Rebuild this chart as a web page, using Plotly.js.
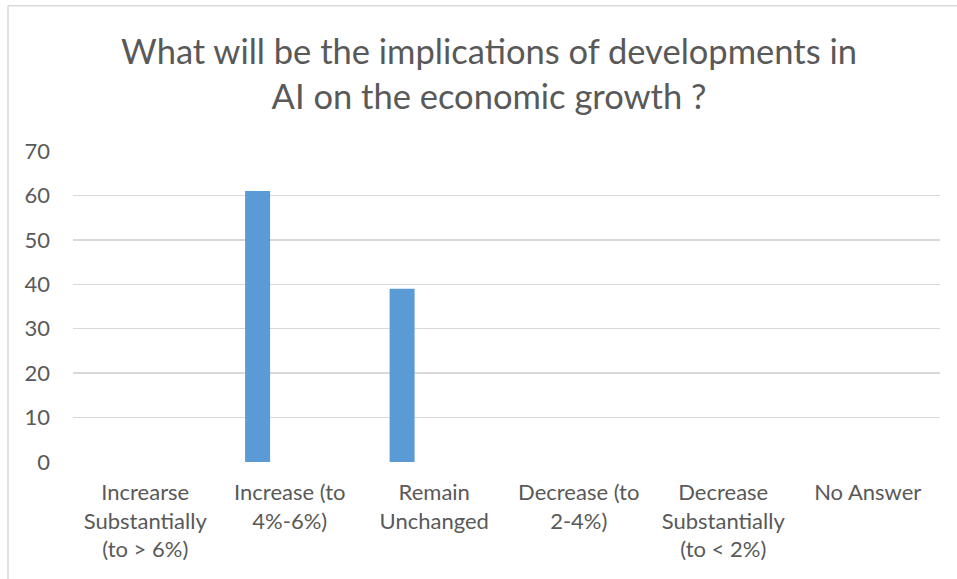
<!DOCTYPE html>
<html><head><meta charset="utf-8">
<script src="https://cdn.plot.ly/plotly-3.0.1.min.js"></script>
<style>html,body{margin:0;padding:0;background:#fff}#c{width:957px;height:579px}</style>
</head><body><div id="c"></div>
<script>
const categories = ["Increarse<br>Substantially<br>(to > 6%)", "Increase (to<br>4%-6%)", "Remain<br>Unchanged", "Decrease (to<br>2-4%)", "Decrease<br>Substantially<br>(to < 2%)", "No Answer"];
const values = [0, 61, 39, 0, 0, 0];
const yTicks = [0, 10, 20, 30, 40, 50, 60, 70];
const titleText = "What will be the implications of developments in<br>AI on the economic growth ?";

const font = "Lato, 'Noto Sans', sans-serif";
const data = [{
  type: "bar", x: categories, y: values,
  width: 0.173, offset: -0.309,
  marker: {color: "#5b9bd5", line: {width: 0}},
  hoverinfo: "none"
}];
const layout = {
  width: 957, height: 579,
  margin: {l: 73, r: 17, t: 151, b: 117.4, pad: 0},
  paper_bgcolor: "#fff", plot_bgcolor: "#fff",
  font: {family: font, color: "#595959", size: 22},
  showlegend: false,
  title: {text: titleText, font: {family: font, size: 34.5, color: "#595959"},
    xref: "container", x: 0.511, xanchor: "center",
    yref: "container", y: 1 - 64/579, yanchor: "top"},
  xaxis: {type: "category", showgrid: false, zeroline: false, showline: false,
    ticks: "", tickfont: {size: 22, color: "#595959"}, ticklabelstandoff: 15,
    fixedrange: true},
  yaxis: {range: [0, 70], tickvals: yTicks, ticktext: yTicks.map(String),
    showgrid: true, gridcolor: "#d9d9d9", gridwidth: 1.3, zeroline: false,
    showline: false, ticks: "", tickfont: {size: 22, color: "#595959"},
    ticklabelstandoff: 22, fixedrange: true},
  shapes: [
    {type: "line", xref: "paper", yref: "paper", x0: -65/867, x1: 1.2, y0: (461.6-6)/310.6, y1: (461.6-6)/310.6,
      line: {color: "#d9d9d9", width: 1.5}},
    {type: "line", xref: "paper", yref: "paper", x0: -65/867, x1: -65/867, y0: (461.6-6)/310.6, y1: -0.5,
      line: {color: "#d9d9d9", width: 1.5}}
  ]
};
Plotly.newPlot("c", data, layout, {displayModeBar: false, staticPlot: true});
</script></body></html>
